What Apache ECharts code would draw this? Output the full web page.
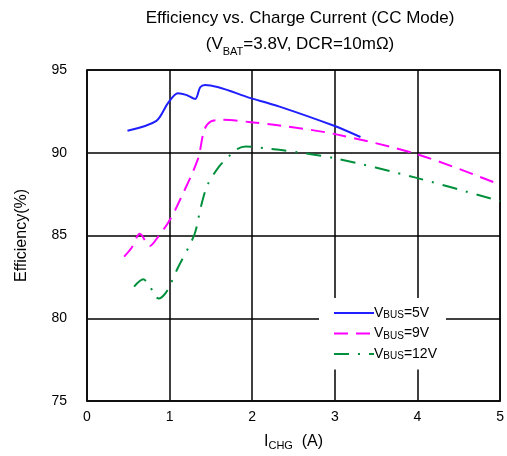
<!DOCTYPE html>
<html>
<head>
<meta charset="utf-8">
<script src="https://cdn.jsdelivr.net/npm/echarts@6/dist/echarts.min.js"></script>
<style>
  html, body { margin: 0; padding: 0; background: #fff; }
  #chart { width: 507px; height: 456px; }
</style>
</head>
<body>
<div id="chart"></div>
<script>
// values
var xTicks = [0, 1, 2, 3, 4, 5];
var yTicks = [75, 80, 85, 90, 95];

var bus5Current = [0.49, 0.84, 0.98, 1.10, 1.20, 1.31, 1.37, 1.43, 1.98, 2.33, 2.99, 3.31];
var bus5Eff     = [91.33, 91.93, 93.0, 93.6, 93.5, 93.25, 93.96, 94.1, 93.3, 92.79, 91.63, 90.95];

var bus9Current = [0.45, 0.54, 0.64, 0.76, 0.86, 0.98, 1.08, 1.34, 1.42, 1.50, 1.64, 1.98, 2.33, 2.99, 3.99, 5.0];
var bus9Eff     = [83.72, 84.26, 85.1, 84.36, 84.92, 85.76, 86.67, 89.58, 91.39, 91.89, 91.99, 91.85, 91.65, 91.14, 89.92, 88.07];

var bus12Current = [0.57, 0.68, 0.76, 0.82, 0.87, 0.94, 1.0, 1.10, 1.30, 1.38, 1.46, 1.60, 1.70, 1.80, 1.92, 2.22, 2.33, 2.99, 3.99, 5.0];
var bus12Eff     = [81.91, 82.35, 81.95, 81.34, 81.19, 81.45, 81.95, 83.05, 85.06, 86.77, 88.07, 89.18, 89.68, 90.18, 90.38, 90.24, 90.18, 89.68, 88.48, 87.07];

function zip(xs, ys) {
    var out = [];
    for (var i = 0; i < xs.length; i++) out.push([xs[i], ys[i]]);
    return out;
}

var font = 'Liberation Sans, Arial, sans-serif';
var chart = echarts.init(document.getElementById('chart'));

var option = {
    backgroundColor: '#fff',
    animation: false,
    title: {
        text: 'Efficiency vs. Charge Current (CC Mode)\n(V{sub|BAT}=3.8V, DCR=10mΩ)',
        left: 295,
        top: 0,
        textAlign: 'center',
        textStyle: {
            fontFamily: font,
            fontSize: 17,
            fontWeight: 'normal',
            color: '#000',
            lineHeight: 26,
            rich: {
                sub: { fontFamily: font, fontSize: 11, verticalAlign: 'bottom', padding: [8, 0, 0, 0], color: '#000' }
            }
        }
    },
    grid: {
        left: 87, top: 70, width: 415, height: 332,
        show: true, borderColor: '#111', borderWidth: 1.5
    },
    legend: {
        left: 319, top: 298,
        orient: 'vertical',
        backgroundColor: '#fff',
        padding: [8, 9, 8, 14],
        itemGap: 6,
        itemWidth: 40,
        itemHeight: 14,
        itemStyle: { color: 'rgba(0,0,0,0)', borderWidth: 0 },
        data: ['5V', '9V', '12V'],
        formatter: function (name) { return 'V{sub|BUS}=' + name; },
        textStyle: {
            fontFamily: font, fontSize: 14, color: '#000', padding: [0, 0, 0, -5],
            rich: { sub: { fontFamily: font, fontSize: 10, color: '#000', padding: [5, 0, 0, 0] } }
        }
    },
    xAxis: {
        type: 'value',
        min: 0, max: 5, interval: 1,
        name: 'I{sub|CHG}  (A)',
        nameLocation: 'middle',
        nameGap: 31,
        nameTextStyle: {
            fontFamily: font, fontSize: 16, color: '#000',
            rich: { sub: { fontFamily: font, fontSize: 11, color: '#000', padding: [8, 0, 0, 0] } }
        },
        axisLine: { show: true, lineStyle: { color: '#111', width: 1.5 } },
        axisTick: { show: false },
        axisLabel: { color: '#000', fontFamily: font, fontSize: 14, margin: 9 },
        splitLine: { show: true, lineStyle: { color: '#000', width: 1.5 } }
    },
    yAxis: {
        type: 'value',
        min: 75, max: 95, interval: 5,
        name: 'Efficiency(%)',
        nameLocation: 'middle',
        nameGap: 57,
        nameTextStyle: { fontFamily: font, fontSize: 16, color: '#000' },
        axisLine: { show: true, lineStyle: { color: '#111', width: 1.5 } },
        axisTick: { show: false },
        axisLabel: { color: '#000', fontFamily: font, fontSize: 14, margin: 20 },
        splitLine: { show: true, lineStyle: { color: '#000', width: 1.5 } }
    },
    series: [
        {
            name: '5V', type: 'line', symbol: 'none', smooth: 0.3,
            color: '#1f1fff',
            lineStyle: { color: '#1f1fff', width: 2, type: 'solid' },
            data: zip(bus5Current, bus5Eff), z: 3
        },
        {
            name: '9V', type: 'line', symbol: 'none', smooth: 0.3,
            color: '#ff00ff',
            lineStyle: { color: '#ff00ff', width: 2, type: [14, 8] },
            data: zip(bus9Current, bus9Eff), z: 3
        },
        {
            name: '12V', type: 'line', symbol: 'none', smooth: 0.3,
            color: '#00903c',
            lineStyle: { color: '#00903c', width: 2, type: [15, 9, 2, 9] },
            data: zip(bus12Current, bus12Eff), z: 3
        }
    ]
};

chart.setOption(option);
</script>
</body>
</html>
